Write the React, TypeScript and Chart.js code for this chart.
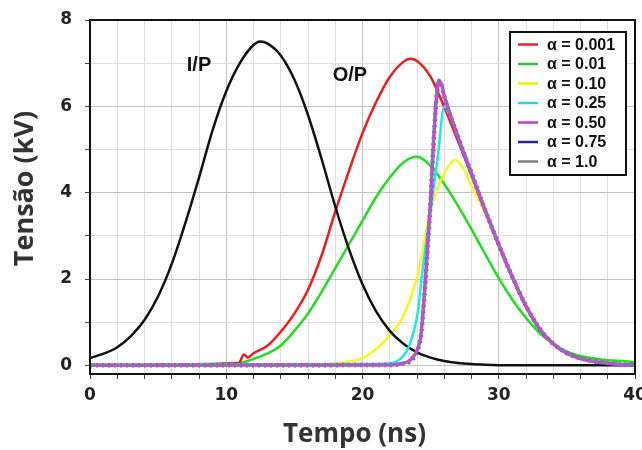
import React, { useEffect, useRef } from 'react';
import { Chart, registerables } from 'chart.js';

Chart.register(...registerables);

// ---- Data ----
// Input pulse (I/P)
const ipT = [0, 1, 2, 3, 4, 5, 6, 7, 8, 9, 10, 11, 12, 12.5, 13, 14, 15, 16, 17, 18, 19, 20, 21, 22, 23, 24, 25, 26, 27, 28, 29, 30, 31, 40];
const ipV = [0.17, 0.27, 0.42, 0.68, 1.05, 1.6, 2.35, 3.3, 4.35, 5.45, 6.35, 7.0, 7.42, 7.5, 7.46, 7.18, 6.62, 5.8, 4.78, 3.68, 2.7, 1.88, 1.25, 0.8, 0.5, 0.3, 0.18, 0.1, 0.055, 0.03, 0.015, 0.005, 0, 0];

// alpha = 0.001 (red)
const redT = [0, 10.9, 11.3, 11.6, 12, 13, 14, 15, 16, 17, 18, 19, 20, 21, 22, 23, 23.5, 24, 25, 26, 27, 28, 29, 30, 31, 32, 33, 34, 35, 36, 37, 38, 39, 40];
const redV = [0, 0.05, 0.25, 0.18, 0.28, 0.45, 0.78, 1.2, 1.75, 2.55, 3.56, 4.5, 5.38, 6.1, 6.68, 7.03, 7.1, 7.05, 6.68, 5.98, 5.2, 4.4, 3.57, 2.77, 2.02, 1.35, 0.83, 0.49, 0.28, 0.16, 0.09, 0.05, 0.02, 0.01];

// alpha = 0.01 (green)
const greenT = [0, 11, 12, 13, 14, 15, 16, 17, 18, 19, 20, 21, 22, 23, 24, 25, 26, 27, 28, 29, 30, 31, 32, 33, 34, 35, 36, 37, 38, 39, 40];
const greenV = [0, 0.06, 0.15, 0.27, 0.46, 0.8, 1.2, 1.7, 2.25, 2.8, 3.35, 3.9, 4.35, 4.7, 4.83, 4.62, 4.2, 3.7, 3.15, 2.58, 2.02, 1.52, 1.1, 0.75, 0.5, 0.32, 0.22, 0.16, 0.12, 0.1, 0.08];

// alpha = 0.10 (yellow)
const yellowT = [0, 17, 18, 19, 20, 21, 22, 23, 24, 25, 26, 26.8, 27.5, 28, 28.5, 29, 30, 31, 32, 33, 34, 35, 36, 37, 38, 39, 40];
const yellowV = [0, 0.02, 0.05, 0.09, 0.17, 0.38, 0.7, 1.15, 2.05, 3.6, 4.45, 4.76, 4.5, 4.15, 3.85, 3.55, 2.8, 2.04, 1.37, 0.85, 0.5, 0.28, 0.16, 0.09, 0.05, 0.02, 0.01];

// alpha = 0.25 (cyan)
const cyanT = [0, 21, 22, 22.5, 23, 23.4, 24, 24.5, 25, 25.5, 26, 26.3, 27, 28, 29, 30, 31, 32, 33, 34, 35, 36, 37, 38, 39, 40];
const cyanV = [0.02, 0.03, 0.05, 0.09, 0.22, 0.43, 1.12, 2.44, 3.6, 4.76, 5.99, 5.85, 5.3, 4.45, 3.6, 2.8, 2.05, 1.38, 0.85, 0.5, 0.28, 0.16, 0.09, 0.05, 0.02, 0.01];

// alpha = 0.50 / 0.75 / 1.0 (magenta, blue, grey) share time points
const steepT = [0, 22, 23, 23.5, 24, 24.3, 24.6, 24.8, 25, 25.2, 25.4, 25.6, 25.8, 26, 27, 28, 29, 30, 31, 32, 33, 34, 35, 36, 37, 38, 39, 40];
const magentaV = [0, 0.01, 0.05, 0.12, 0.35, 0.73, 1.9, 2.85, 3.85, 5.1, 6.1, 6.6, 6.5, 6.25, 5.3, 4.45, 3.6, 2.8, 2.05, 1.38, 0.85, 0.5, 0.28, 0.16, 0.09, 0.05, 0.02, 0.01];
const blueV = [0, 0.01, 0.04, 0.1, 0.32, 0.7, 1.85, 2.8, 3.8, 5.05, 6.05, 6.55, 6.48, 6.22, 5.3, 4.45, 3.6, 2.8, 2.05, 1.38, 0.85, 0.5, 0.28, 0.16, 0.09, 0.05, 0.02, 0.01];
const greyV = [0, 0.01, 0.05, 0.12, 0.36, 0.75, 1.95, 2.9, 3.9, 5.15, 6.15, 6.62, 6.52, 6.27, 5.32, 4.47, 3.62, 2.82, 2.06, 1.39, 0.86, 0.5, 0.28, 0.16, 0.09, 0.05, 0.02, 0.01];

// Legend
const legendLabels = ['α = 0.001', 'α = 0.01', 'α = 0.10', 'α = 0.25', 'α = 0.50', 'α = 0.75', 'α = 1.0'];
const legendColors = ['#e8202a', '#2ec040', '#f2f200', '#3cc8e0', '#c040c8', '#2a2a9a', '#808080'];

// Axes
const xMin = 0;
const xMax = 40;
const xStep = 2;
const xLabelEvery = 10;
const yMin = -0.2;
const yMax = 8;
const yTickValues = [0, 0.5, 1, 1.5, 2, 2.5, 3, 3.5, 4, 4.5, 5, 5.5, 6, 6.5, 7, 7.5, 8];
const yLabelEvery = 2;

// Annotations
const annotations = [
  { text: 'I/P', x: 8.0, y: 6.94 },
  { text: 'O/P', x: 19.08, y: 6.71 },
];

const xTitle = 'Tempo (ns)';
const yTitle = 'Tensão (kV)';

function pts(t: number[], v: number[]) {
  return t.map((x, i) => ({ x, y: v[i] }));
}

export default function App() {
  const ref = useRef<HTMLCanvasElement>(null);

  useEffect(() => {
    if (!ref.current) return;

    const overlay = {
      id: 'overlay',
      afterDraw(chart: any) {
        const ctx = chart.ctx as CanvasRenderingContext2D;
        const ca = chart.chartArea;
        const xs = chart.scales.x;
        const ys = chart.scales.y;
        ctx.save();
        // frame
        ctx.lineWidth = 2;
        ctx.strokeStyle = '#111';
        ctx.strokeRect(ca.left, ca.top, ca.right - ca.left, ca.bottom - ca.top);

        // annotations
        ctx.fillStyle = '#111';
        ctx.font = 'bold 20px "Liberation Sans", Arial, sans-serif';
        ctx.textAlign = 'center';
        ctx.textBaseline = 'middle';
        annotations.forEach((a) => {
          ctx.fillText(a.text, xs.getPixelForValue(a.x), ys.getPixelForValue(a.y));
        });

        // legend
        const bw = 116;
        const bh = 143;
        const bx = ca.right - 9 - bw;
        const by = ca.top + 12;
        ctx.fillStyle = '#fff';
        ctx.fillRect(bx, by, bw, bh);
        ctx.lineWidth = 2;
        ctx.strokeStyle = '#111';
        ctx.strokeRect(bx, by, bw, bh);
        ctx.font = 'bold 16px "Liberation Sans", Arial, sans-serif';
        ctx.textAlign = 'left';
        ctx.textBaseline = 'middle';
        legendLabels.forEach((lab, i) => {
          const y = by + 12.5 + i * 19.5;
          ctx.strokeStyle = legendColors[i];
          ctx.lineWidth = 2.5;
          ctx.beginPath();
          ctx.moveTo(bx + 8, y);
          ctx.lineTo(bx + 28, y);
          ctx.stroke();
          ctx.fillStyle = '#111';
          ctx.fillText(lab, bx + 37, y + 1);
        });

        // axis titles
        ctx.fillStyle = '#333';
        ctx.font = 'bold 26px "Open Sans", sans-serif';
        ctx.textAlign = 'center';
        ctx.textBaseline = 'alphabetic';
        ctx.fillText(xTitle, (ca.left + ca.right) / 2 - 8, 442);
        ctx.save();
        ctx.translate(33, 188.5);
        ctx.rotate(-Math.PI / 2);
        ctx.font = 'bold 27px "Open Sans", sans-serif';
        ctx.fillText(yTitle, 0, 0);
        ctx.restore();
        ctx.restore();
      },
    };

    const line = (data: any, color: string, width: number, order: number, dash?: number[]) => ({
      data,
      borderColor: color,
      borderWidth: width,
      borderDash: dash || [],
      pointRadius: 0,
      fill: false,
      cubicInterpolationMode: 'monotone' as const,
      order,
    });

    const chart = new Chart(ref.current, {
      type: 'line',
      data: {
        datasets: [
          line(pts(steepT, greyV), 'rgba(125,125,155,0.95)', 2.5, 0, [7, 5]),
          line(pts(steepT, magentaV), '#cc44dd', 3.5, 1),
          line(pts(steepT, blueV), 'rgba(70,70,170,0.85)', 4.5, 2, [2, 4]),
          line(pts(cyanT, cyanV), '#22e6ee', 2.5, 3),
          line(pts(ipT, ipV), '#111111', 2.5, 4),
          line(pts(redT, redV), '#ee1c1c', 2.5, 5),
          line(pts(yellowT, yellowV), '#f8f820', 2.5, 6),
          line(pts(greenT, greenV), '#22dd22', 2.5, 7),
        ],
      },
      options: {
        animation: false,
        responsive: false,
        devicePixelRatio: 1,
        events: [],
        layout: { padding: { left: 0, top: 20, right: 7, bottom: 0 } },
        plugins: {
          legend: { display: false },
          tooltip: { enabled: false },
        },
        scales: {
          x: {
            type: 'linear',
            min: xMin,
            max: xMax,
            ticks: {
              stepSize: xStep,
              autoSkip: false,
              maxRotation: 0,
              padding: 6,
              color: '#222',
              font: { family: '"DejaVu Sans", sans-serif', size: 17, weight: 'bold' },
              callback: (v: any) => (Number(v) % xLabelEvery === 0 ? String(v) : ''),
            },
            grid: {
              color: (c: any) => (c.tick && c.tick.value % xLabelEvery === 0 ? '#c2c2c2' : '#dedede'),
              lineWidth: 1,
              tickLength: 5,
              tickColor: '#444',
            },
            border: { display: false },
            afterFit: (s: any) => {
              s.height = 76;
              s.paddingLeft = 0;
              s.paddingRight = 0;
            },
          },
          y: {
            type: 'linear',
            min: yMin,
            max: yMax,
            afterBuildTicks: (s: any) => {
              s.ticks = yTickValues.map((v) => ({ value: v }));
            },
            ticks: {
              padding: 13,
              color: '#222',
              font: { family: '"DejaVu Sans", sans-serif', size: 17, weight: 'bold' },
              callback: (v: any) => (Number(v) % yLabelEvery === 0 ? String(v) : ''),
            },
            grid: {
              color: (c: any) => (c.tick && c.tick.value % yLabelEvery === 0 ? '#c2c2c2' : '#dedede'),
              lineWidth: 1,
              tickLength: 5,
              tickColor: '#444',
            },
            border: { display: false },
            afterFit: (s: any) => {
              s.width = 90;
              s.paddingTop = 0;
              s.paddingBottom = 0;
            },
          },
        },
      },
      plugins: [overlay],
    } as any);

    return () => chart.destroy();
  }, []);

  return (
    <div style={{ position: 'absolute', left: 0, top: 0, width: 642, height: 450, background: '#fff' }}>
      <canvas ref={ref} width={642} height={450} style={{ display: 'block' }} />
    </div>
  );
}
